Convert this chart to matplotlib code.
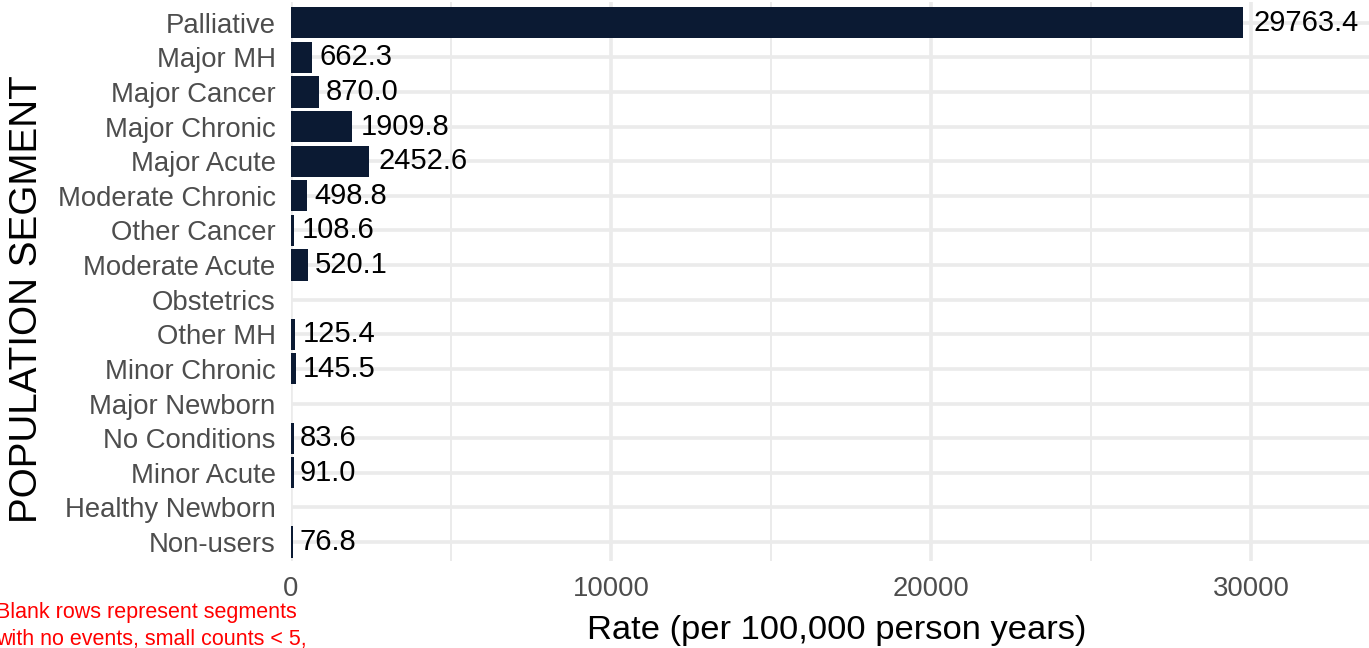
import matplotlib
matplotlib.use('Agg')
import matplotlib.pyplot as plt
from matplotlib.ticker import MultipleLocator

plt.rcParams['font.family'] = ['Liberation Sans', 'DejaVu Sans']

# categories top to bottom, None = suppressed / no events
segments = ['Palliative', 'Major MH', 'Major Cancer', 'Major Chronic', 'Major Acute',
            'Moderate Chronic', 'Other Cancer', 'Moderate Acute', 'Obstetrics', 'Other MH',
            'Minor Chronic', 'Major Newborn', 'No Conditions', 'Minor Acute',
            'Healthy Newborn', 'Non-users']
rates = [29763.4, 662.3, 870.0, 1909.8, 2452.6, 498.8, 108.6, 520.1, None, 125.4,
         145.5, None, 83.6, 91.0, None, 76.8]
x_ticks = [0, 10000, 20000, 30000]

bar_color = '#0b1a33'
grid_color = '#ebebeb'

fig = plt.figure(figsize=(13.69, 6.48), dpi=100)
ax = fig.add_axes([291 / 1369, 1 - 561 / 648, (1369 - 291) / 1369, 559 / 648])

ypos = list(range(len(segments)))
labels = []
for y, v in zip(ypos, rates):
    if v is None:
        continue
    ax.barh(y, v, height=0.9, color=bar_color, zorder=2)
    t = ax.annotate(f'{v:.1f}', xy=(v, y), xytext=(0, 0), textcoords='offset pixels',
                    va='center', ha='left', fontsize=21, color='black', zorder=3)
    labels.append(t)

ax.set_ylim(len(segments) - 0.45, -0.6)
ax.set_xlim(0, 33690)
ax.set_yticks(ypos)
ax.set_yticklabels(segments, fontsize=19.8, color='#4d4d4d')
ax.set_xticks(x_ticks)
ax.set_xticklabels([str(t) for t in x_ticks], fontsize=19.8, color='#4d4d4d')
ax.xaxis.set_minor_locator(MultipleLocator(5000))
ax.tick_params(axis='y', which='both', length=0, pad=11)
ax.tick_params(axis='x', which='both', length=0, pad=11)

ax.grid(True, which='major', axis='both', color=grid_color, linewidth=2.6, zorder=0)
ax.grid(True, which='minor', axis='x', color=grid_color, linewidth=1.4, zorder=0)
ax.set_axisbelow(True)
for s in ax.spines.values():
    s.set_visible(False)

fig.text(837 / 1369, 1 - 630 / 648, 'Rate (per 100,000 person years)', fontsize=24.8,
         color='black', ha='center', va='center')
fig.text(27 / 1369, 1 - 299 / 648, 'POPULATION SEGMENT', rotation=90, fontsize=27.8,
         color='black', ha='center', va='center')

fig.text(-4 / 1369, 1 - 626 / 648, 'Blank rows represent segments\nwith no events, small counts < 5,',
         fontsize=15.5, color='red', ha='left', va='center', linespacing=1.35)

# value labels sit one tenth of their own width past the bar end (hjust = -0.1)
fig.canvas.draw()
renderer = fig.canvas.get_renderer()
for t in labels:
    w = t.get_window_extent(renderer).width
    t.xyann = (0.1 * w, 0)

fig.savefig('out.png', dpi=100)
